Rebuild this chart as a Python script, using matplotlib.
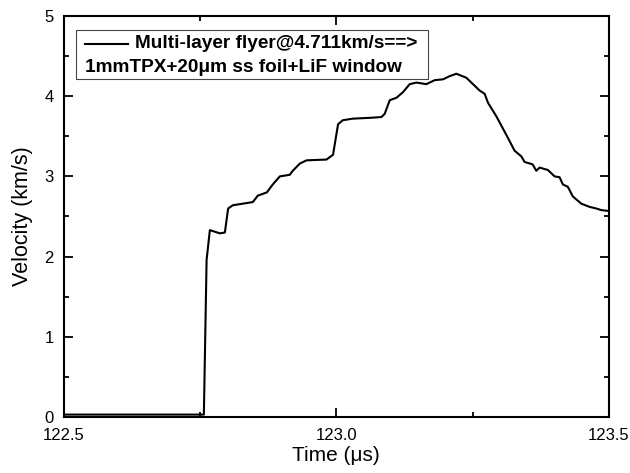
import matplotlib
matplotlib.use("Agg")
from matplotlib import pyplot as plt
from matplotlib.patches import Rectangle
from matplotlib.lines import Line2D

plt.rcParams['font.family'] = ['Liberation Sans', 'DejaVu Sans']

# velocity trace
time_us = [122.50, 122.7573, 122.7623, 122.7683, 122.7866, 122.7958, 122.8018,
           122.8104, 122.8288, 122.8471, 122.8562, 122.8727, 122.8837, 122.8965,
           122.9148, 122.9203, 122.9332, 122.9454, 122.9821, 122.9941, 123.0033,
           123.0119, 123.0302, 123.0614, 123.0828, 123.0888, 123.0980, 123.1103,
           123.1223, 123.1346, 123.1469, 123.1652, 123.1804, 123.1956, 123.2079,
           123.2201, 123.2385, 123.2568, 123.2628, 123.2720, 123.2780, 123.2934,
           123.3147, 123.3269, 123.3392, 123.3452, 123.3599, 123.3667, 123.3727,
           123.3879, 123.4002, 123.4093, 123.4154, 123.4245, 123.4337, 123.4491,
           123.4643, 123.4765, 123.4857, 123.4978, 123.50]
velocity = [0.03, 0.03, 1.96, 2.33, 2.29, 2.30, 2.60,
            2.64, 2.66, 2.68, 2.76, 2.80, 2.90, 3.00,
            3.02, 3.07, 3.16, 3.20, 3.21, 3.27, 3.65,
            3.70, 3.72, 3.73, 3.74, 3.78, 3.95, 3.98,
            4.05, 4.15, 4.17, 4.15, 4.20, 4.21, 4.25,
            4.28, 4.23, 4.11, 4.07, 4.03, 3.92, 3.75,
            3.48, 3.32, 3.25, 3.18, 3.15, 3.07, 3.11,
            3.08, 3.00, 2.99, 2.90, 2.87, 2.75, 2.66,
            2.62, 2.60, 2.58, 2.57, 2.57]

legend_line1 = "Multi-layer flyer@4.711km/s==>"
legend_line2 = "1mmTPX+20\u03bcm ss foil+LiF window"

fig = plt.figure(figsize=(6.3, 4.73), dpi=100)
ax = fig.add_axes([0.1008, 0.1184, 0.8659, 0.8478])

ax.plot(time_us, velocity, color='black', lw=1.5)

ax.set_xlim(122.5, 123.5)
ax.set_ylim(0, 5)
ax.set_xticks([122.5, 123.0, 123.5])
ax.set_xticks([122.75, 123.25], minor=True)
ax.set_yticks([0, 1, 2, 3, 4, 5])
ax.set_yticks([0.5, 1.5, 2.5, 3.5, 4.5], minor=True)
ax.tick_params(which='both', direction='in', top=True, right=True, width=1.3,
               labelsize=12)
ax.tick_params(which='major', length=6.5)
ax.tick_params(which='minor', length=3.5)
ax.tick_params(axis='x', pad=8)
ax.tick_params(axis='y', pad=7)
for s in ax.spines.values():
    s.set_linewidth(1.5)

ax.set_xlabel("Time (\u03bcs)", fontsize=15, labelpad=2)
ax.set_ylabel("Velocity (km/s)", fontsize=15.5, labelpad=8)

# legend box drawn by hand (handle only on first line)
ax.add_patch(Rectangle((0.0226, 0.842), 0.645, 0.122, transform=ax.transAxes,
                       fill=False, edgecolor='#444444', lw=0.8))
ax.add_line(Line2D([0.0395, 0.1185], [0.931, 0.931], transform=ax.transAxes,
                   color='black', lw=1.5))
ax.text(0.131, 0.931, legend_line1, transform=ax.transAxes, fontsize=13.7,
        fontweight='bold', va='center', ha='left')
ax.text(0.0395, 0.872, legend_line2, transform=ax.transAxes, fontsize=13.7,
        fontweight='bold', va='center', ha='left')

fig.savefig("out.png", dpi=100)
